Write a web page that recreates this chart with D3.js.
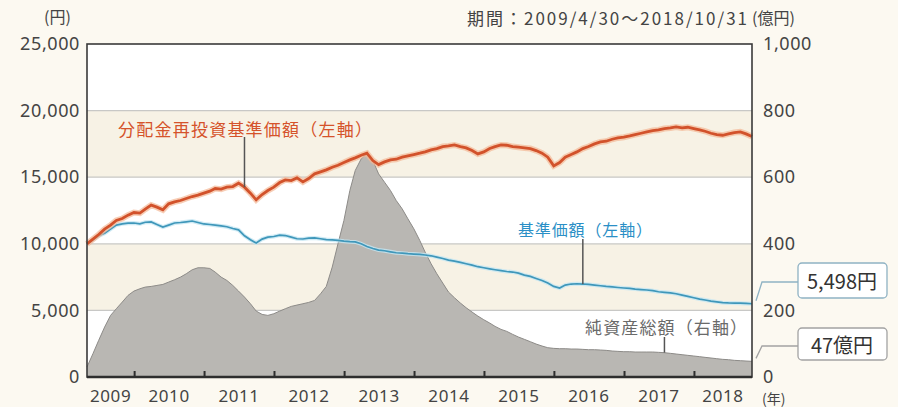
<!DOCTYPE html>
<html><head><meta charset="utf-8">
<script src="https://cdn.jsdelivr.net/npm/d3@7/dist/d3.min.js"></script>
<style>
html,body{margin:0;padding:0;background:#fcf9f1;}
svg{display:block;font-family:"Noto Sans CJK JP","Noto Sans",sans-serif;}
</style></head><body>
<svg id="c" width="898" height="407"></svg>
<script>
// ---- data (month-end values, 2009/4/30 .. 2018/10/31) ----
const periodStart = "2009-04-30";
const periodEnd = "2018-10-31";
const yearLabels = ["2009","2010","2011","2012","2013","2014","2015","2016","2017","2018"];
const leftTicks = [0,5000,10000,15000,20000,25000];
const rightTicks = [0,200,400,600,800,1000];

// 分配金再投資基準価額 (円, left axis)
const reinvested = [10000,10350,10700,11100,11400,11750,11900,12150,12350,12300,
12600,12900,12750,12550,13000,13150,13250,13400,13550,13650,
13800,13950,14150,14100,14250,14300,14550,14250,13800,13300,
13700,14000,14250,14600,14800,14750,14950,14650,14900,15250,
15400,15550,15750,15900,16100,16300,16450,16650,16800,16250,
15950,16150,16300,16350,16500,16600,16700,16800,16900,17050,
17150,17300,17350,17420,17300,17200,17000,16750,16900,17150,
17300,17420,17400,17300,17250,17200,17150,17000,16800,16500,
15850,16100,16500,16700,16900,17150,17300,17500,17650,17700,
17850,17950,18000,18100,18200,18300,18400,18500,18550,18650,
18700,18770,18700,18750,18650,18550,18450,18300,18200,18150,
18250,18350,18400,18250,18050];

// 基準価額 (円, left axis)
const nav = [10000,10300,10600,10800,11100,11400,11500,11550,11560,11500,
11620,11640,11450,11250,11400,11560,11600,11650,11710,11600,
11490,11450,11400,11340,11280,11150,11050,10600,10300,10060,
10350,10500,10550,10650,10620,10500,10380,10360,10420,10440,
10380,10320,10290,10250,10200,10160,10140,10000,9800,9650,
9530,9480,9400,9330,9300,9260,9230,9200,9160,9100,
9000,8900,8780,8700,8600,8500,8400,8280,8200,8120,
8050,7980,7920,7880,7800,7650,7550,7400,7250,7050,
6800,6680,6900,6980,7000,6980,6950,6900,6850,6800,
6760,6720,6680,6650,6600,6560,6530,6480,6400,6360,
6320,6250,6150,6050,5950,5850,5780,5700,5640,5580,
5560,5550,5540,5520,5498];

// 純資産総額 (億円, right axis)
const netAssets = [30,70,110,150,185,205,225,245,258,265,
270,272,275,278,285,292,300,310,322,328,
328,326,315,300,290,275,258,240,220,198,
188,185,190,198,205,212,216,220,224,230,
250,272,330,400,470,560,620,655,670,650,
610,585,560,530,505,475,445,410,375,340,
310,282,255,238,222,208,195,183,172,162,
152,143,137,128,120,113,106,99,93,88,
86,85,85,84,84,83,82,82,81,80,
78,77,76,76,75,75,75,75,74,73,
71,69,67,65,63,61,59,57,55,53,
52,50,49,48,47];

const dates = reinvested.map((_, m) => new Date(2009, 4 + m, 0));

// ---- chart ----
const svg = d3.select("#c");
const L = 87, R = 752, T = 44, B = 377;
const x = d3.scaleTime().domain([new Date(periodStart), new Date(periodEnd)]).range([L, R]);
const yL = d3.scaleLinear().domain([0, 25000]).range([B, T]);
const yR = d3.scaleLinear().domain([0, 1000]).range([B, T]);
const numFont = "'Noto Sans','Noto Sans CJK JP',sans-serif";

// bands
const bandColors = ["#ffffff", "#f7f2e5"];
svg.append("g").selectAll("rect").data(d3.range(5)).join("rect")
  .attr("x", L).attr("width", R - L)
  .attr("y", i => yL((i + 1) * 5000)).attr("height", i => yL(i * 5000) - yL((i + 1) * 5000))
  .attr("fill", i => bandColors[i % 2]);

// grid
svg.append("g").selectAll("line").data(leftTicks.slice(1, -1)).join("line")
  .attr("x1", L).attr("x2", R).attr("y1", d => yL(d)).attr("y2", d => yL(d))
  .attr("stroke", "#c8c8c6").attr("stroke-width", 1.2);

// area
const area = d3.area().x((d, i) => x(dates[i])).y0(B).y1(d => yR(d));
svg.append("path").datum(netAssets).attr("d", area).attr("fill", "#b9b7b3");
svg.append("path").datum(netAssets).attr("d", d3.line().x((d, i) => x(dates[i])).y(d => yR(d)))
  .attr("fill", "none").attr("stroke", "#8d8b88").attr("stroke-width", 1);

const lineL = d3.line().x((d, i) => x(dates[i])).y(d => yL(d));
// blue
svg.append("path").datum(nav).attr("d", lineL).attr("fill", "none")
  .attr("stroke", "#c4e6f2").attr("stroke-width", 4).attr("stroke-opacity", 0.8);
svg.append("path").datum(nav).attr("d", lineL).attr("fill", "none")
  .attr("stroke", "#3f97ba").attr("stroke-width", 1.7);
// orange
svg.append("path").datum(reinvested).attr("d", lineL).attr("fill", "none")
  .attr("stroke", "#f4b896").attr("stroke-width", 6).attr("stroke-opacity", 0.7);
svg.append("path").datum(reinvested).attr("d", lineL).attr("fill", "none")
  .attr("stroke", "#d2522b").attr("stroke-width", 2.8);

// frame
svg.append("rect").attr("x", L).attr("y", T).attr("width", R - L).attr("height", B - T)
  .attr("fill", "none").attr("stroke", "#3a3a3a").attr("stroke-width", 1.6);
svg.append("line").attr("x1", L).attr("x2", R).attr("y1", B).attr("y2", B)
  .attr("stroke", "#2e2e2e").attr("stroke-width", 2.4);

// x ticks
const yearStarts = yearLabels.slice(1).map(y => new Date(+y, 0, 1));
const xAxis = d3.axisBottom(x).tickValues(yearStarts).tickSize(-6).tickFormat("");
const gx = svg.append("g").attr("transform", `translate(0,${B})`).call(xAxis);
gx.select(".domain").remove();
gx.selectAll(".tick line").attr("stroke", "#2e2e2e").attr("stroke-width", 2);

// year labels
const dStart = new Date(periodStart), dEnd = new Date(periodEnd);
svg.append("g").selectAll("text").data(yearLabels).join("text")
  .attr("x", y => {
    const a = Math.max(+new Date(+y, 0, 1), +dStart), b = Math.min(+new Date(+y + 1, 0, 1), +dEnd);
    return x(new Date((a + b) / 2));
  })
  .attr("y", 395).attr("text-anchor", "middle").attr("dominant-baseline", "central")
  .attr("font-family", numFont)
  .attr("font-size", 17).attr("letter-spacing", 0.6).attr("fill", "#444").text(d => d);

// y axes
const gl = svg.append("g").attr("transform", `translate(${L},0)`)
  .call(d3.axisLeft(yL).tickValues(leftTicks).tickFormat(d3.format(",")).tickSize(0).tickPadding(7));
gl.select(".domain").remove();
gl.selectAll("text").attr("font-size", 18).attr("letter-spacing", 0.6).attr("fill", "#444").attr("font-family", numFont);
const gr = svg.append("g").attr("transform", `translate(${R},0)`)
  .call(d3.axisRight(yR).tickValues(rightTicks).tickFormat(d3.format(",")).tickSize(0).tickPadding(11));
gr.select(".domain").remove();
gr.selectAll("text").attr("font-size", 18).attr("letter-spacing", 0.6).attr("fill", "#444").attr("font-family", numFont);

// unit labels / header
function txt(t, xx, yy, opts) {
  const e = svg.append("text").attr("x", xx).attr("y", yy).attr("dominant-baseline", "central")
    .attr("font-size", opts.size || 17).attr("fill", opts.fill || "#444")
    .attr("text-anchor", opts.anchor || "start").text(t);
  if (opts.len) e.attr("textLength", opts.len).attr("lengthAdjust", "spacing");
  return e;
}
txt("(円)", 44, 16, {size: 16});
txt("期間：2009/4/30～2018/10/31", 467, 17, {size: 17, len: 280});
txt("(億円)", 752, 17, {size: 16});
txt("(年)", 762, 398, {size: 14});

// series labels with leaders
const mO = 27, mB = 85, mG = 99;
svg.append("line").attr("x1", x(dates[mO])).attr("x2", x(dates[mO])).attr("y1", 137).attr("y2", yL(reinvested[mO]))
  .attr("stroke", "#555").attr("stroke-width", 1.5);
svg.append("line").attr("x1", x(dates[mB])).attr("x2", x(dates[mB])).attr("y1", 239).attr("y2", yL(nav[mB]))
  .attr("stroke", "#555").attr("stroke-width", 1.5);
svg.append("line").attr("x1", x(dates[mG])).attr("x2", x(dates[mG])).attr("y1", 337).attr("y2", yR(netAssets[mG]))
  .attr("stroke", "#555").attr("stroke-width", 1.5);
txt("分配金再投資基準価額（左軸）", 118, 128, {size: 17, fill: "#d5532b", len: 254});
txt("基準価額（左軸）", 518, 229, {size: 16, fill: "#2b8fc6", len: 134});
txt("純資産総額（右軸）", 585, 326, {size: 17, fill: "#6a6a6a", len: 162});

// callouts
const last = dates.length - 1;
function callout(yEnd, yMid, boxTop, boxH, label, stroke) {
  svg.append("path").attr("d", `M${R + 4},${yEnd - 3} L${R + 10},${yMid} L798,${yMid}`)
    .attr("fill", "none").attr("stroke", stroke).attr("stroke-width", 1.3);
  svg.append("rect").attr("x", 798).attr("y", boxTop).attr("width", 89).attr("height", boxH)
    .attr("rx", 4).attr("fill", "#ffffff").attr("stroke", stroke).attr("stroke-width", 1.3);
  svg.append("text").attr("x", 842).attr("y", boxTop + boxH / 2).attr("text-anchor", "middle")
    .attr("dominant-baseline", "central").attr("font-size", 20).attr("fill", "#333").text(label);
}
callout(yL(nav[last]), 282, 263, 35, "5,498円", "#8fb2c3");
callout(yR(netAssets[last]), 346, 328, 32, "47億円", "#a3a3a3");
</script>
</body></html>
